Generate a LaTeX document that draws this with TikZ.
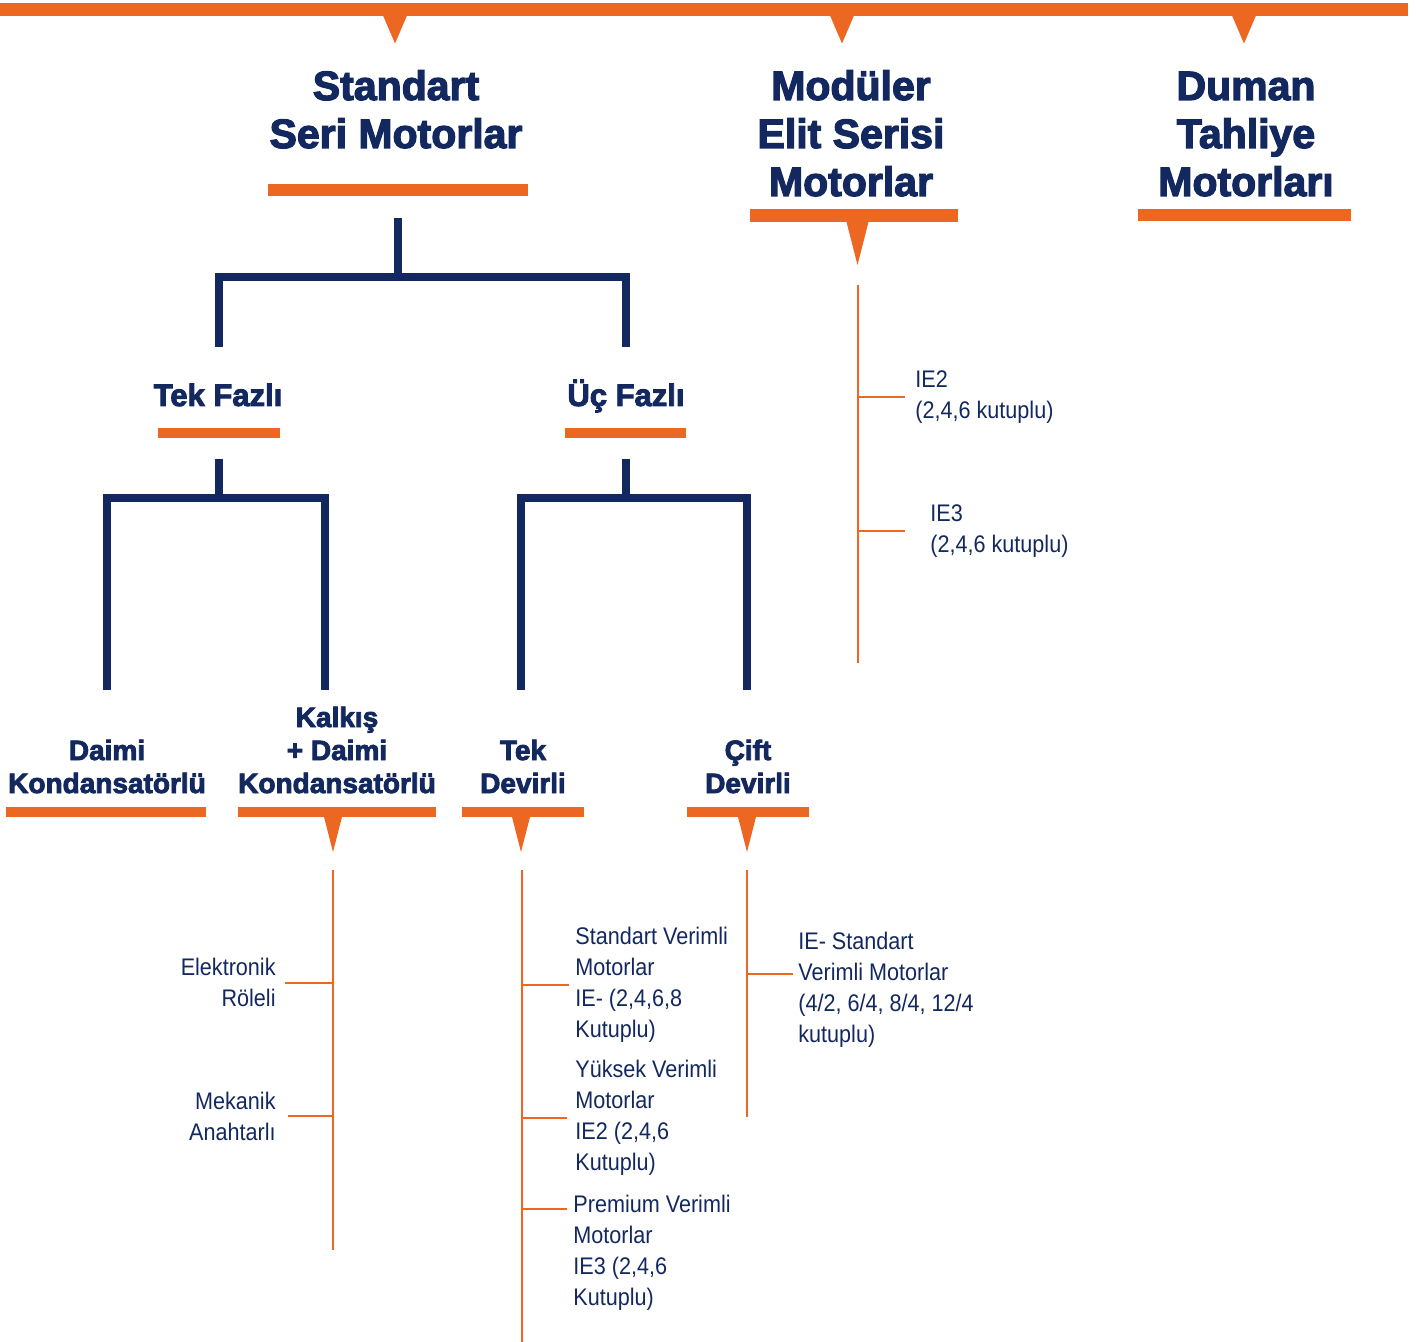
\documentclass[tikz,border=0pt]{standalone}
\usepackage{fontspec}
\setmainfont{Liberation Sans}
\newfontfamily\headfont{Liberation Sans}[UprightFont={* Bold}, FakeBold=3]
\newfontfamily\leaffont{Liberation Sans}[FakeStretch=0.9]
\usetikzlibrary{positioning}
\definecolor{accentorange}{RGB}{235, 103, 34}
\definecolor{accentnavy}{RGB}{19, 40, 94}

\tikzset{
  head/.style={font=\headfont\fontsize{20.5}{24}\selectfont, text=accentnavy, align=center, anchor=base, inner sep=0pt},
  subhead/.style={head, font=\headfont\fontsize{15.5}{18}\selectfont},
  minorhead/.style={head, font=\headfont\fontsize{14}{16.5}\selectfont},
  leaf/.style={font=\leaffont\fontsize{12}{15.5}\selectfont, text=accentnavy, align=left, anchor=west, inner sep=0pt},
  leftleaf/.style={leaf, align=right, anchor=east},
  obar/.style={fill=accentorange, inner sep=0pt, minimum height=5pt},
  tree/.style={draw=accentnavy, line width=4pt},
  branch/.style={draw=accentorange, line width=1pt}
}
\newcommand{\orangetip}[3]{\fill[accentorange] (#1) ++(-#2,0) -- ++(2*#2,0) -- ++(-#2,#3) -- cycle;}

\begin{document}
\begin{tikzpicture}[x=0.5pt, y=-0.5pt]
    \useasboundingbox (0,0) rectangle (1418,1342);
    % top rail
    \node[obar, minimum width=704pt, minimum height=6.25pt] (topbar) at (704,9.5) {};
    \orangetip{395,15.5}{12}{28}
    \orangetip{842,15.5}{12}{28}
    \orangetip{1244,15.5}{12}{28}

    % main groups (base = last line)
    \node[head] (std) at (396,148) {Standart\\Seri Motorlar};
    \node[head] (mod) at (851,196) {Modüler\\Elit Serisi\\Motorlar};
    \node[head] (dum) at (1246,196) {Duman\\Tahliye\\Motorları};
    \node[obar, minimum width=130pt, minimum height=6pt] (stdbar) at (398,190) {};
    \node[obar, minimum width=104pt, minimum height=6.5pt] (modbar) at (853.5,215.5) {};
    \node[obar, minimum width=106.5pt, minimum height=6pt] (dumbar) at (1244.5,215) {};
    \orangetip{857.5,222}{11}{43}

    % phases
    \node[subhead] (tekfazli) at (218,406) {Tek Fazlı};
    \node[subhead] (ucfazli) at (626,406) {Üç Fazlı};
    \node[obar, minimum width=61pt] (tekfazlibar) at (219,432.5) {};
    \node[obar, minimum width=60.5pt] (ucfazlibar) at (625.5,432.5) {};

    \coordinate (lvl2) at (0,347);
    \coordinate (lvl3) at (0,690);
    \draw[tree] ([yshift=-11pt]stdbar.south) -- ++(0,59) coordinate (j1);
    \draw[tree] ([xshift=0.5pt]tekfazli |- lvl2) |- (j1) -| (ucfazli |- lvl2);

    % capacitor and speed types
    \node[minorhead] (daimi) at (107,793) {Daimi\\Kondansatörlü};
    \node[minorhead] (kalkis) at (337,793) {Kalkış\\+ Daimi\\Kondansatörlü};
    \node[minorhead] (tekdev) at (523,793) {Tek\\Devirli};
    \node[minorhead] (cift) at (748,793) {Çift\\Devirli};
    \node[obar, minimum width=100pt] (daimibar) at (106,812) {};
    \node[obar, minimum width=99pt] (kalkisbar) at (337,812) {};
    \node[obar, minimum width=61pt] (tekdevbar) at (523,812) {};
    \node[obar, minimum width=61pt] (ciftbar) at (748,812) {};
    \orangetip{333,817}{9}{35}
    \orangetip{521,817}{9}{35}
    \orangetip{747,817}{9}{35}

    \draw[tree] ([yshift=-10.5pt]tekfazlibar.south) -- ++(0,39) coordinate (j2);
    \draw[tree] (daimi |- lvl3) |- (j2) -| ([xshift=-6pt]kalkis |- lvl3);
    \draw[tree] ([yshift=-10.5pt]ucfazlibar.south) -- ++(0,39) coordinate (j3);
    \draw[tree] ([xshift=-1pt]tekdev |- lvl3) |- (j3) -| ([xshift=-0.5pt]cift |- lvl3);

    % orange branches
    \coordinate (modtop) at (858,285);
    \coordinate (modend) at (858,663);
    \coordinate (kalktop) at (333,870);
    \coordinate (kalkend) at (333,1250);
    \coordinate (tektop) at (522,870);
    \coordinate (tekend) at (522,1342);
    \coordinate (cifttop) at (747,870);
    \coordinate (ciftend) at (747,1117);
    \draw[branch] (modtop) -- (modend);
    \draw[branch] (kalktop) -- (kalkend);
    \draw[branch] (tektop) -- (tekend);
    \draw[branch] (cifttop) -- (ciftend);

    % leaves
    \node[leaf] (ie2) at (915,397.5) {IE2\\(2,4,6 kutuplu)};
    \node[leaf] (ie3) at (930,531) {IE3\\(2,4,6 kutuplu)};
    \node[leftleaf] (elek) at (276,982.5) {Elektronik\\Röleli};
    \node[leftleaf] (mek) at (276,1116) {Mekanik\\Anahtarlı};
    \node[leaf] (stdv) at (575,984.5) {Standart Verimli\\Motorlar\\IE- (2,4,6,8\\Kutuplu)};
    \node[leaf] (yuk) at (575,1117.5) {Yüksek Verimli\\Motorlar\\IE2 (2,4,6\\Kutuplu)};
    \node[leaf, anchor=north west] (prem) at (573,1194.5) {Premium Verimli\\Motorlar\\IE3 (2,4,6\\Kutuplu)};
    \node[leaf, anchor=north west] (iestd) at (798,931.5) {IE- Standart\\Verimli Motorlar\\(4/2, 6/4, 8/4, 12/4\\kutuplu)};

    \draw[branch] (modtop |- ie2.west) -- ([xshift=-5pt]ie2.west);
    \draw[branch] (modtop |- ie3.west) -- ([xshift=-12.5pt]ie3.west);
    \draw[branch] (kalktop |- elek.east) -- ([xshift=4.5pt]elek.east);
    \draw[branch] (kalktop |- mek.east) -- ([xshift=6pt]mek.east);
    \draw[branch] (tektop |- stdv.west) -- ([xshift=-3pt]stdv.west);
    \draw[branch] (tektop |- yuk.west) -- ([xshift=-4pt]yuk.west);
    \draw[branch] ([yshift=-7.25pt]tektop |- prem.north) -- ([shift={(-3pt,-7.25pt)}]prem.north west);
    \draw[branch] ([yshift=-21.25pt]cifttop |- iestd.north) -- ([shift={(-2.5pt,-21.25pt)}]iestd.north west);
\end{tikzpicture}
\end{document}
